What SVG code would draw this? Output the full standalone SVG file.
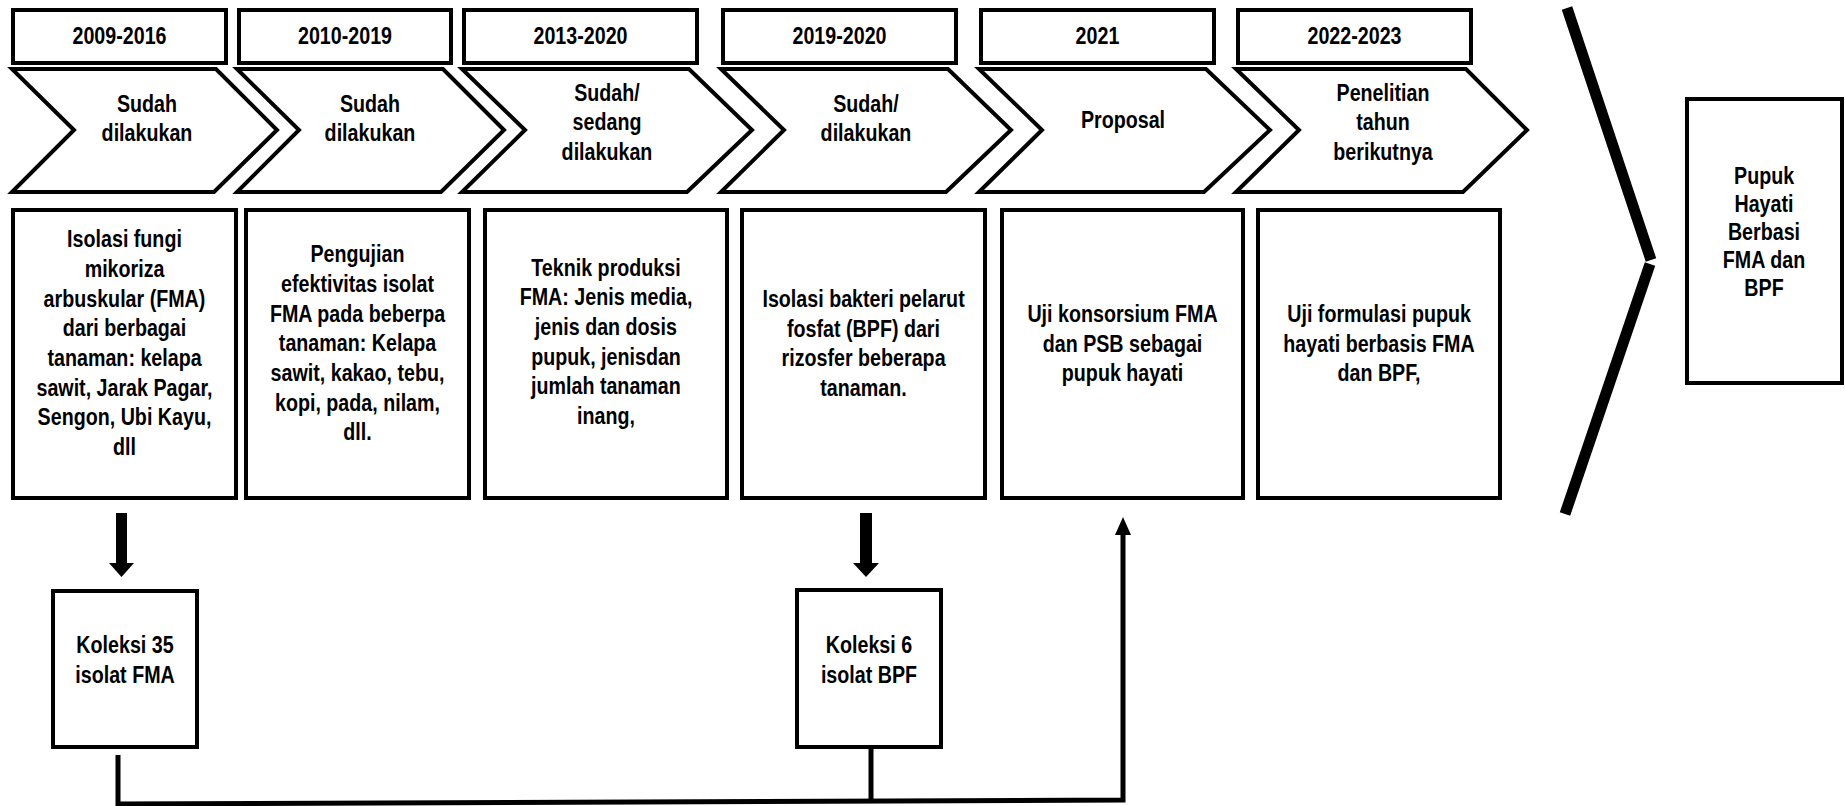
<svg xmlns="http://www.w3.org/2000/svg" width="1845" height="806" viewBox="0 0 1845 806">
<style>
.box{fill:#fff;stroke:#000;stroke-width:4}
.chev{fill:#fff;stroke:#000;stroke-width:4;stroke-linejoin:miter}
text{font-family:"Liberation Sans Narrow","Arial Narrow","Liberation Sans",Arial,sans-serif;font-weight:bold;font-size:24px;fill:#000;text-anchor:middle;transform-box:fill-box;transform-origin:center;transform:scaleX(0.82)}
.conn{fill:none;stroke:#000;stroke-width:5}
</style>
<rect width="1845" height="806" fill="#fff"/>
<g id="year1"><rect class="box" x="13" y="10" width="213" height="53"/><text x="119.5" y="44">2009-2016</text></g>
<g id="year2"><rect class="box" x="239" y="10" width="212" height="53"/><text x="345" y="44">2010-2019</text></g>
<g id="year3"><rect class="box" x="464" y="10" width="233" height="53"/><text x="580.5" y="44">2013-2020</text></g>
<g id="year4"><rect class="box" x="723" y="10" width="233" height="53"/><text x="839.5" y="44">2019-2020</text></g>
<g id="year5"><rect class="box" x="981" y="10" width="233" height="53"/><text x="1097.5" y="44">2021</text></g>
<g id="year6"><rect class="box" x="1238" y="10" width="233" height="53"/><text x="1354.5" y="44">2022-2023</text></g>

<g id="chev1"><polygon class="chev" points="12,69 216,69 277,130 214,192 12,192 74,130"/><text x="147" y="112">Sudah</text><text x="147" y="141">dilakukan</text></g>
<g id="chev2"><polygon class="chev" points="237,69 443,69 504,130 441,192 237,192 299,130"/><text x="370" y="112">Sudah</text><text x="370" y="141">dilakukan</text></g>
<g id="chev3"><polygon class="chev" points="462,69 689,69 752,130 687,192 462,192 525,130"/><text x="607" y="101">Sudah/</text><text x="607" y="130">sedang</text><text x="607" y="160">dilakukan</text></g>
<g id="chev4"><polygon class="chev" points="721,69 948,69 1011,130 946,192 721,192 784,130"/><text x="866" y="112">Sudah/</text><text x="866" y="141">dilakukan</text></g>
<g id="chev5"><polygon class="chev" points="979,69 1206,69 1270,130 1204,192 979,192 1042,130"/><text x="1123" y="128">Proposal</text></g>
<g id="chev6"><polygon class="chev" points="1236,69 1466,69 1527,130 1463,192 1236,192 1299,130"/><text x="1383" y="101">Penelitian</text><text x="1383" y="130">tahun</text><text x="1383" y="160">berikutnya</text></g>

<g id="act1"><rect class="box" x="13" y="210" width="223" height="288"/>
<text x="124.5" y="247">Isolasi fungi</text><text x="124.5" y="277">mikoriza</text><text x="124.5" y="307">arbuskular (FMA)</text><text x="124.5" y="336">dari berbagai</text><text x="124.5" y="366">tanaman: kelapa</text><text x="124.5" y="396">sawit, Jarak Pagar,</text><text x="124.5" y="425">Sengon, Ubi Kayu,</text><text x="124.5" y="455">dll</text></g>
<g id="act2"><rect class="box" x="246" y="210" width="223" height="288"/>
<text x="357.5" y="262">Pengujian</text><text x="357.5" y="292">efektivitas isolat</text><text x="357.5" y="322">FMA pada beberpa</text><text x="357.5" y="351">tanaman: Kelapa</text><text x="357.5" y="381">sawit, kakao, tebu,</text><text x="357.5" y="411">kopi, pada, nilam,</text><text x="357.5" y="440">dll.</text></g>
<g id="act3"><rect class="box" x="485" y="210" width="242" height="288"/>
<text x="606" y="276">Teknik produksi</text><text x="606" y="305">FMA: Jenis media,</text><text x="606" y="335">jenis dan dosis</text><text x="606" y="365">pupuk, jenisdan</text><text x="606" y="394">jumlah tanaman</text><text x="606" y="424">inang,</text></g>
<g id="act4"><rect class="box" x="742" y="210" width="243" height="288"/>
<text x="863.5" y="307">Isolasi bakteri pelarut</text><text x="863.5" y="337">fosfat (BPF) dari</text><text x="863.5" y="366">rizosfer beberapa</text><text x="863.5" y="396">tanaman.</text></g>
<g id="act5"><rect class="box" x="1002" y="210" width="241" height="288"/>
<text x="1122.5" y="322">Uji konsorsium FMA</text><text x="1122.5" y="352">dan PSB sebagai</text><text x="1122.5" y="381">pupuk hayati</text></g>
<g id="act6"><rect class="box" x="1258" y="210" width="242" height="288"/>
<text x="1379" y="322">Uji formulasi pupuk</text><text x="1379" y="352">hayati berbasis FMA</text><text x="1379" y="381">dan BPF,</text></g>

<g id="koleksi35"><rect class="box" x="53" y="591" width="144" height="156"/><text x="125" y="653">Koleksi 35</text><text x="125" y="683">isolat FMA</text></g>
<g id="koleksi6"><rect class="box" x="797" y="590" width="144" height="157"/><text x="869" y="653">Koleksi 6</text><text x="869" y="683">isolat BPF</text></g>

<g id="pupuk"><rect class="box" x="1687" y="99" width="155" height="284"/>
<text x="1764" y="184">Pupuk</text><text x="1764" y="212">Hayati</text><text x="1764" y="240">Berbasi</text><text x="1764" y="268">FMA dan</text><text x="1764" y="296">BPF</text></g>

<g id="connectors">
<polygon points="116,513 127,513 127,563 134,563 121.5,577 109,563 116,563" fill="#000"/>
<polygon points="860,513 872,513 872,563 879,563 866,577 853,563 860,563" fill="#000"/>
<polyline class="conn" points="118,755 118,804 1123,800 1123,530"/>
<line class="conn" x1="871" y1="749" x2="871" y2="802"/>
<polygon points="1123,517 1131,535 1115,535" fill="#000"/>
<line x1="1567" y1="8" x2="1651" y2="260" stroke="#000" stroke-width="11"/>
<line x1="1650" y1="264" x2="1565" y2="514" stroke="#000" stroke-width="11"/>
</g>
</svg>
